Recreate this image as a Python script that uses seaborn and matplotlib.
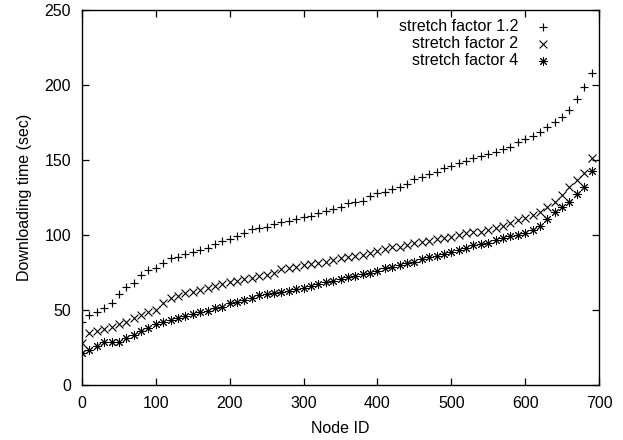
import numpy as np
import pandas as pd
import matplotlib
matplotlib.use("Agg")
import matplotlib.pyplot as plt
import seaborn as sns

node_id = list(range(0, 700, 10))

sf_1_2 = [42.2, 46.6, 48.4, 51.1, 54.4, 60.7, 65.6, 67.8, 73.3, 76.6,
          78.2, 81.1, 84.4, 85.1, 87.1, 88.9, 90.0, 91.1, 94.1, 96.2,
          97.6, 99.3, 101.5, 104.0, 104.9, 105.4, 107.1, 108.9, 109.3, 110.5,
          111.8, 112.9, 114.4, 116.0, 117.3, 118.9, 121.3, 122.2, 122.9, 126.0,
          127.7, 128.9, 130.4, 132.2, 133.8, 137.1, 138.9, 140.7, 142.3, 144.4,
          146.0, 147.8, 149.4, 151.1, 152.7, 154.0, 155.6, 157.2, 158.9, 162.2,
          163.8, 166.0, 168.9, 172.3, 175.5, 178.9, 183.3, 190.4, 198.9, 208.3]

sf_2 = [27.8, 34.4, 36.0, 37.4, 38.8, 40.4, 42.2, 44.5, 46.6, 48.4,
        50.0, 54.4, 57.8, 59.6, 61.2, 62.2, 63.3, 64.9, 66.3, 67.1,
        68.4, 69.3, 70.6, 71.5, 72.7, 73.3, 74.5, 77.3, 77.8, 78.9,
        80.0, 80.7, 81.6, 82.2, 83.3, 84.4, 85.5, 86.0, 86.7, 87.8,
        89.4, 90.4, 91.7, 92.2, 93.3, 94.5, 95.6, 96.2, 97.2, 97.8,
        98.8, 100.0, 101.1, 101.7, 102.2, 103.3, 104.5, 106.0, 107.8, 110.0,
        111.2, 113.3, 115.5, 118.9, 122.2, 126.7, 132.2, 136.6, 141.1, 151.1]

sf_4 = [21.1, 23.4, 26.2, 28.5, 28.5, 28.9, 31.2, 33.3, 36.0, 38.2,
        40.4, 41.8, 43.3, 44.9, 46.3, 47.3, 48.4, 49.3, 51.1, 52.2,
        54.4, 55.5, 56.7, 58.2, 60.0, 60.5, 61.2, 61.8, 62.6, 63.8,
        64.9, 66.2, 67.2, 68.5, 69.3, 70.6, 72.2, 72.7, 74.0, 74.9,
        76.2, 77.8, 78.9, 80.0, 81.1, 82.2, 83.7, 85.1, 86.0, 87.3,
        88.9, 90.0, 91.1, 93.4, 93.7, 94.4, 96.4, 97.9, 99.1, 100.3,
        101.6, 103.3, 105.7, 110.7, 115.6, 118.6, 122.0, 127.5, 131.9, 142.7]

labels = ["stretch factor 1.2", "stretch factor 2", "stretch factor 4"]
x_ticks = [0, 100, 200, 300, 400, 500, 600, 700]
y_ticks = [0, 50, 100, 150, 200, 250]

sns.set_theme(style="ticks")
plt.rcParams["font.family"] = ["Liberation Sans", "DejaVu Sans"]
plt.rcParams["text.color"] = "black"
plt.rcParams["axes.labelcolor"] = "black"

FS = 11.5
fig = plt.figure(figsize=(6.23, 4.40), dpi=100)
ax = fig.add_axes([82 / 623, 1 - 385 / 440, (599 - 82) / 623, (385 - 10) / 440])

series = [sf_1_2, sf_2, sf_4]
markers = ["+", "x", (8, 2, 0)]
sizes = [40, 32, 36]
widths = [0.85, 0.8, 0.7]
for vals, lab, mk, sz, lw in zip(series, labels, markers, sizes, widths):
    df = pd.DataFrame({"Node ID": node_id, "time": vals})
    sns.scatterplot(data=df, x="Node ID", y="time", marker=mk, s=sz,
                    color="black", linewidth=lw, ax=ax, label=lab)

ax.set_xlim(0, 700)
ax.set_ylim(0, 250)
ax.set_xticks(x_ticks)
ax.set_yticks(y_ticks)
ax.tick_params(direction="in", top=True, right=True, length=5, width=0.9,
               labelsize=FS, colors="black", labelcolor="black", pad=8)
for sp in ax.spines.values():
    sp.set_linewidth(1.0)
    sp.set_color("black")
ax.set_xlabel("Node ID", fontsize=FS, labelpad=7, color="black")
ax.set_ylabel("Downloading time (sec)", fontsize=FS, labelpad=9, color="black")

leg = ax.legend(loc="upper right", bbox_to_anchor=(551 / 623, 1 - 19 / 440),
                bbox_transform=fig.transFigure, frameon=False, markerfirst=False,
                borderaxespad=0, borderpad=0, handlelength=1.0, handletextpad=1.05,
                labelspacing=0.12, fontsize=FS)
for t in leg.get_texts():
    t.set_color("black")

fig.savefig("out.png", dpi=100)
